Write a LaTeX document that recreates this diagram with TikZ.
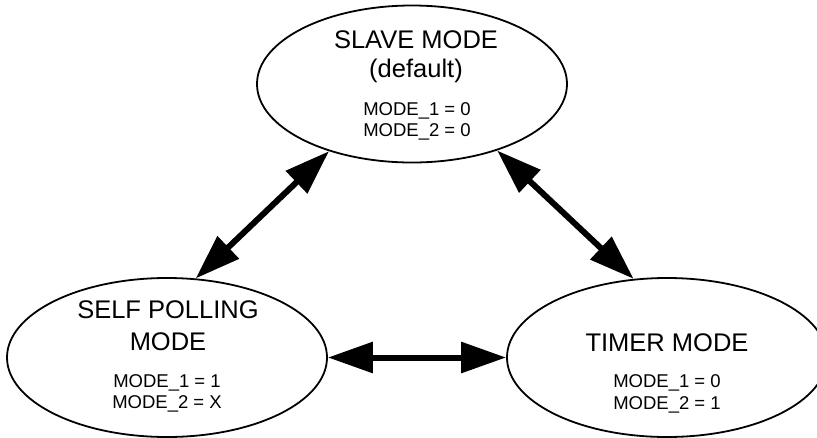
\documentclass[tikz,border=0pt]{standalone}
\usepackage{fontspec}
\setmainfont{Liberation Sans}
\usetikzlibrary{shapes.geometric,arrows.meta}
\begin{document}
\begin{tikzpicture}[x=1pt,y=-1pt,
  state/.style={draw=black,line width=1.8pt,ellipse,inner sep=0pt},
  bigtxt/.style={anchor=base,inner sep=0pt,font=\fontsize{25.5}{30}\selectfont},
  smalltxt/.style={anchor=base,inner sep=0pt,font=\fontsize{18.5}{22}\selectfont},
  link/.style={line width=6pt,{Triangle[length=45pt,width=30pt]}-{Triangle[length=45pt,width=30pt]}}]
\useasboundingbox (0,0) rectangle (817,437);
\node[state,minimum width=310pt,minimum height=157pt] (slave) at (412,84) {};
\node[state,minimum width=320pt,minimum height=159pt] (self) at (167,357.5) {};
\node[state,minimum width=320pt,minimum height=159pt] (timer) at (667,357.5) {};
\node[bigtxt] (t1a) at (416,48) {SLAVE MODE};
\node[bigtxt] (t1b) at (416,77) {(default)};
\node[smalltxt] (t1c) at (417,115) {MODE\_1 = 0};
\node[smalltxt] (t1d) at (417,136) {MODE\_2 = 0};
\node[bigtxt] (t2a) at (168,318) {SELF POLLING};
\node[bigtxt] (t2b) at (168,350) {MODE};
\node[smalltxt] (t2c) at (167,387) {MODE\_1 = 1};
\node[smalltxt] (t2d) at (167,408) {MODE\_2 = X};
\node[bigtxt] (t3a) at (667,351) {TIMER MODE};
\node[smalltxt] (t3c) at (667,387) {MODE\_1 = 0};
\node[smalltxt] (t3d) at (667,409) {MODE\_2 = 1};
\draw[link] (self.70.7) -- (slave.219.2);
\draw[link] (slave.322.6) -- (timer.113);
\draw[link] (self.east) -- (timer.west);
\end{tikzpicture}
\end{document}
